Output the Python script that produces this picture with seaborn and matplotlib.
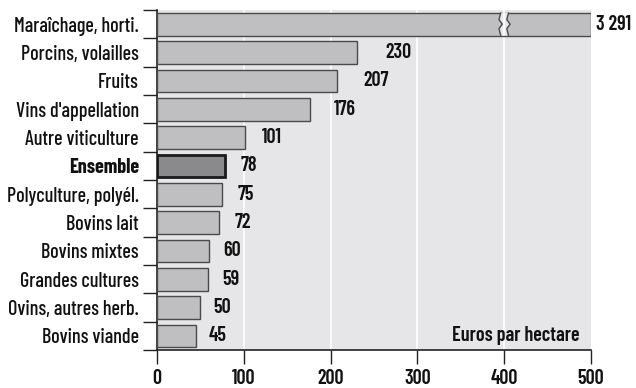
import numpy as np
import pandas as pd
import matplotlib
matplotlib.use("Agg")
import matplotlib.pyplot as plt
import seaborn as sns
from matplotlib.patches import Polygon

categories = ["Maraîchage, horti.", "Porcins, volailles", "Fruits", "Vins d'appellation",
              "Autre viticulture", "Ensemble", "Polyculture, polyél.", "Bovins lait",
              "Bovins mixtes", "Grandes cultures", "Ovins, autres herb.", "Bovins viande"]
values = [3291, 230, 207, 176, 101, 78, 75, 72, 60, 59, 50, 45]
value_labels = ["3 291", "230", "207", "176", "101", "78", "75", "72", "60", "59", "50", "45"]
xticks = [0, 100, 200, 300, 400, 500]
highlight = "Ensemble"
unit_label = "Euros par hectare"

XMAX = 500
BG = "#e6e6e8"
BAR = "#bfbfc1"
BAR_HI = "#8a8a8c"
FS = 14.5
TXT = "#111111"

sns.set_theme(style="white")
plt.rcParams['font.family'] = ['Barlow Condensed', 'DejaVu Sans']
plt.rcParams['font.weight'] = 500

df = pd.DataFrame({"cat": categories, "val": values})
df["shown"] = np.minimum(df["val"], XMAX)

fig = plt.figure(figsize=(6.36, 3.88), dpi=100)
ax = fig.add_axes([157/636, 1-350/388, (591-157)/636, (350-10)/388])
ax.set_facecolor(BG)

pal = {c: (BAR_HI if c == highlight else BAR) for c in categories}
sns.barplot(data=df, x="shown", y="cat", hue="cat", palette=pal, orient="h",
            width=0.8, legend=False, ax=ax, zorder=3)

for p, c in zip(ax.patches, categories):
    if c == highlight:
        p.set_edgecolor("#1a1a1a"); p.set_linewidth(2.0)
    else:
        p.set_edgecolor("#4a4a4a"); p.set_linewidth(1.0)

ax.set_xlim(0, XMAX)
ax.set_ylim(len(categories) - 0.5, -0.5)

for gx in xticks[1:-1]:
    ax.axvline(gx, color="white", lw=1.2, zorder=1)

# break on the first bar
y0, y1 = -0.4, 0.4
fr = np.array([0, 0.3, 0.5, 0.7, 1.0])
off = np.array([0, -2.0, 1.8, -2.0, 0])
ys = y0 + fr * (y1 - y0)
lx = 396 + off
rx = 405 + off
poly = np.concatenate([np.column_stack([lx, ys]), np.column_stack([rx, ys])[::-1]])
ax.add_patch(Polygon(poly, closed=True, facecolor=BG, edgecolor="none", zorder=4))
ax.plot([400, 400], [y0 + 0.02, y1 - 0.02], color="white", lw=1.2, zorder=4.5)
ax.plot(lx, ys, color="#4a4a4a", lw=1.0, zorder=5)
ax.plot(rx, ys, color="#4a4a4a", lw=1.0, zorder=5)

# value labels
for i, (v, s) in enumerate(zip(values, value_labels)):
    if v > XMAX:
        ax.text(XMAX + 6, i, s, ha="left", va="center", fontsize=FS, fontweight=600,
                color=TXT, clip_on=False, zorder=6)
    else:
        ax.text(v * 1.1 + 10, i, s, ha="left", va="center", fontsize=FS, fontweight=600,
                color=TXT, zorder=6)

ax.text(487, 11, unit_label, ha="right", va="center", fontsize=FS,
        fontweight=600, color=TXT, zorder=6)

ax.set_xticks(xticks)
ax.set_xticklabels([str(t) for t in xticks], fontsize=FS, color=TXT, fontweight=600)
ax.set_yticks(np.arange(len(categories)))
ax.set_yticklabels(categories, fontsize=FS, color=TXT)
for lab in ax.get_yticklabels():
    if lab.get_text() == highlight:
        lab.set_fontweight("bold")
ax.set_yticks(np.arange(len(categories) + 1) - 0.5, minor=True)
ax.tick_params(axis="y", which="major", length=0, pad=13)
ax.tick_params(axis="y", which="minor", length=10, width=1, color="#222222", direction="out", left=True)
ax.tick_params(axis="x", which="major", length=10, width=1, color="#222222", direction="out", bottom=True, pad=4)
ax.set_xlabel(""); ax.set_ylabel("")

for s in ["top", "right"]:
    ax.spines[s].set_visible(False)
for s in ["left", "bottom"]:
    ax.spines[s].set_color("#222222"); ax.spines[s].set_linewidth(1.2)

fig.savefig("out.png", dpi=100)
